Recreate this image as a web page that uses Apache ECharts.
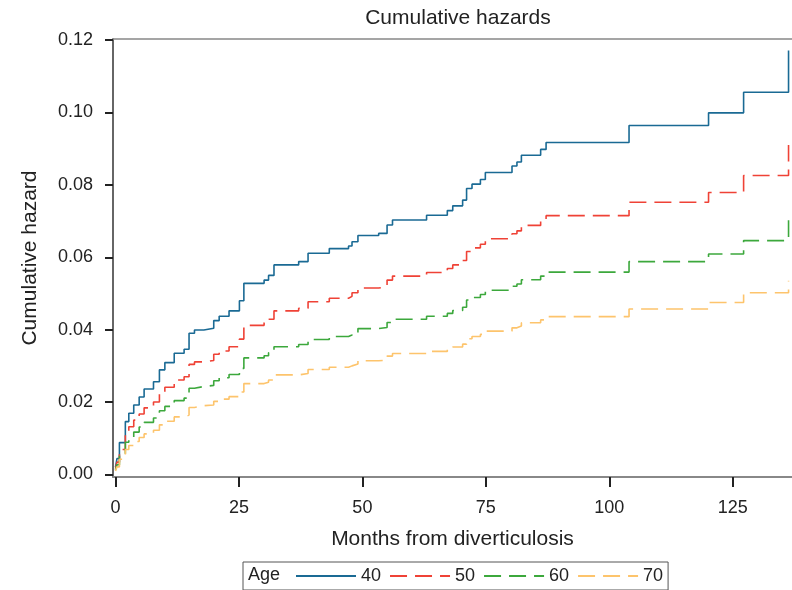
<!DOCTYPE html>
<html>
<head>
<meta charset="utf-8">
<script src="https://cdn.jsdelivr.net/npm/echarts@6/dist/echarts.min.js"></script>
<style>
  html, body { margin: 0; padding: 0; background: #fff; }
  #main { width: 792px; height: 590px; }
</style>
</head>
<body>
<div id="main"></div>
<script>
// step times (months) shared by all curves
var months = [0, 0.3, 0.8, 2.0, 2.7, 3.7, 4.8, 5.8, 7.7, 8.9, 10.0, 11.9, 13.9, 14.9, 16.0, 17.9,
  19.9, 21.0, 23.0, 25.1, 26.0, 30.1, 31.0, 32.1, 37.1, 39.0, 43.3, 47.2, 47.9, 49.1, 53.3,
  55.0, 56.1, 63.0, 67.2, 68.3, 70.3, 71.1, 72.2, 73.9, 74.9, 80.3, 81.3, 82.2, 86.1, 87.2,
  104.0, 120.1, 127.2, 136.3];

var age40 = [0.0020, 0.0044, 0.0088, 0.0146, 0.0169, 0.0192, 0.0214, 0.0236, 0.0256, 0.0289,
  0.0309, 0.0335, 0.0346, 0.0390, 0.0399, 0.0404, 0.0425, 0.0437, 0.0452, 0.0480, 0.0528,
  0.0537, 0.0550, 0.0579, 0.0588, 0.0611, 0.0624, 0.0631, 0.0643, 0.0660, 0.0666, 0.0689,
  0.0703, 0.0716, 0.0729, 0.0742, 0.0758, 0.0790, 0.0802, 0.0815, 0.0834, 0.0852, 0.0863,
  0.0882, 0.0898, 0.0917, 0.0964, 0.0999, 0.1056, 0.1171];

var age50 = [0.0016, 0.0034, 0.0069, 0.0114, 0.0132, 0.0150, 0.0167, 0.0184, 0.0200, 0.0225,
  0.0241, 0.0261, 0.0270, 0.0304, 0.0311, 0.0315, 0.0332, 0.0341, 0.0353, 0.0374, 0.0412,
  0.0419, 0.0429, 0.0452, 0.0459, 0.0477, 0.0487, 0.0492, 0.0502, 0.0515, 0.0519, 0.0537,
  0.0548, 0.0558, 0.0569, 0.0579, 0.0591, 0.0616, 0.0626, 0.0636, 0.0651, 0.0665, 0.0673,
  0.0688, 0.0700, 0.0715, 0.0752, 0.0779, 0.0826, 0.0910];

var age60 = [0.0012, 0.0027, 0.0054, 0.0089, 0.0103, 0.0117, 0.0131, 0.0144, 0.0156, 0.0176,
  0.0188, 0.0204, 0.0211, 0.0238, 0.0243, 0.0246, 0.0259, 0.0267, 0.0276, 0.0293, 0.0322,
  0.0328, 0.0336, 0.0353, 0.0359, 0.0373, 0.0381, 0.0385, 0.0392, 0.0403, 0.0406, 0.0420,
  0.0429, 0.0437, 0.0445, 0.0453, 0.0462, 0.0482, 0.0489, 0.0497, 0.0509, 0.0520, 0.0526,
  0.0538, 0.0548, 0.0559, 0.0588, 0.0609, 0.0646, 0.0702];

var age70 = [0.0010, 0.0021, 0.0042, 0.0069, 0.0080, 0.0091, 0.0102, 0.0112, 0.0122, 0.0137,
  0.0147, 0.0159, 0.0164, 0.0185, 0.0190, 0.0192, 0.0202, 0.0208, 0.0215, 0.0228, 0.0251,
  0.0255, 0.0261, 0.0275, 0.0279, 0.0290, 0.0296, 0.0300, 0.0305, 0.0314, 0.0316, 0.0327,
  0.0334, 0.0340, 0.0346, 0.0352, 0.0360, 0.0375, 0.0381, 0.0387, 0.0396, 0.0405, 0.0410,
  0.0419, 0.0427, 0.0436, 0.0457, 0.0475, 0.0502, 0.0535];

var xTicks = [0, 25, 50, 75, 100, 125];
var yTicks = [0, 0.02, 0.04, 0.06, 0.08, 0.10, 0.12];
var ageNames = ['40', '50', '60', '70'];
var colors = ['#1a6a94', '#ef4236', '#3ca83c', '#fdc46c'];

var font = 'Liberation Sans, Arial, sans-serif';
var myChart = echarts.init(document.getElementById('main'));

function pairs(arr) {
  return months.map(function (m, i) { return [m, arr[i]]; });
}

function curve(name, arr, idx) {
  return {
    name: name,
    type: 'line',
    step: 'end',
    symbol: 'none',
    data: pairs(arr),
    lineStyle: {
      color: colors[idx],
      width: 1.6,
      type: idx === 0 ? 'solid' : [17, 8]
    },
    itemStyle: { color: colors[idx] },
    silent: true,
    animation: false
  };
}

var option = {
  backgroundColor: '#fff',
  animation: false,
  title: {
    text: 'Cumulative hazards',
    left: 453,
    top: 3,
    textAlign: 'center',
    textStyle: { fontFamily: font, fontSize: 21, fontWeight: 'normal', color: '#222' }
  },
  grid: { left: 113, top: 39, right: 0, bottom: 113, containLabel: false },
  legend: {
    left: 243,
    top: 562,
    padding: [5, 5, 5, 52],
    itemWidth: 60,
    itemHeight: 14,
    itemGap: 8,
    borderColor: '#555',
    borderWidth: 1,
    data: ageNames,
    itemStyle: { opacity: 0 },
    textStyle: { fontFamily: font, fontSize: 18, color: '#222' }
  },
  graphic: [{
    type: 'text',
    left: 248,
    top: 566,
    style: { text: 'Age', fontFamily: font, fontSize: 18, fill: '#222' }
  }],
  xAxis: [{
    type: 'value',
    min: -0.5,
    max: 137,
    splitLine: { show: false },
    axisLine: { onZero: false, lineStyle: { color: '#888', width: 2 } },
    axisTick: { customValues: xTicks, length: 10, lineStyle: { color: '#222', width: 2 } },
    axisLabel: { customValues: xTicks, margin: 22, fontFamily: font, fontSize: 18, color: '#222' },
    name: 'Months from diverticulosis',
    nameLocation: 'middle',
    nameGap: 52,
    nameTextStyle: { fontFamily: font, fontSize: 21, color: '#222' }
  }, {
    type: 'value',
    position: 'top',
    min: -0.5,
    max: 137,
    splitLine: { show: false },
    axisLine: { onZero: false, lineStyle: { color: '#888', width: 1.5 } },
    axisTick: { show: false },
    axisLabel: { show: false }
  }],
  yAxis: {
    type: 'value',
    min: -0.0007,
    max: 0.1203,
    splitLine: { show: false },
    axisLine: { show: true, onZero: false, lineStyle: { color: '#333', width: 1.5 } },
    axisTick: { show: true, customValues: yTicks, length: 8, lineStyle: { color: '#222', width: 2 } },
    axisLabel: {
      customValues: yTicks, margin: 20, fontFamily: font, fontSize: 18, color: '#222',
      formatter: function (v) { return v.toFixed(2); }
    },
    name: 'Cumulative hazard',
    nameLocation: 'middle',
    nameGap: 72,
    nameTextStyle: { fontFamily: font, fontSize: 21, color: '#222' }
  },
  series: [
    curve('40', age40, 0),
    curve('50', age50, 1),
    curve('60', age60, 2),
    curve('70', age70, 3)
  ]
};

myChart.setOption(option);
</script>
</body>
</html>
